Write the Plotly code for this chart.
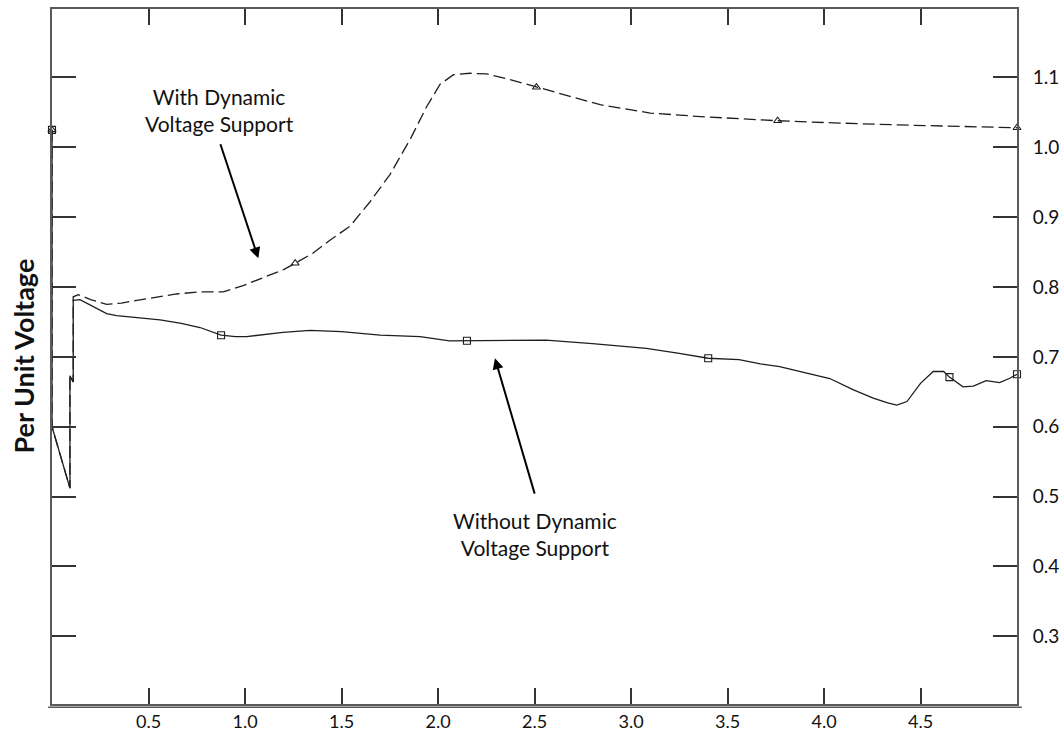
import plotly.graph_objects as go

# ---- data (time in s, voltage in p.u.) ----
t_without = [0, 0, 0.093, 0.093, 0.11, 0.11, 0.145, 0.2, 0.283, 0.335, 0.45, 0.56, 0.67, 0.767,
             0.876, 0.95, 1.009, 1.1, 1.197, 1.337, 1.5, 1.70, 1.907, 2.06, 2.15, 2.39, 2.56,
             2.80, 3.08, 3.25, 3.40, 3.56, 3.67, 3.77, 3.876, 4.03, 4.15, 4.255, 4.33, 4.377,
             4.43, 4.50, 4.566, 4.62, 4.65, 4.72, 4.774, 4.84, 4.91, 4.96, 5.0]
v_without = [1.025, 0.600, 0.512, 0.673, 0.664, 0.781, 0.782, 0.774, 0.762, 0.759, 0.756, 0.753,
             0.748, 0.742, 0.731, 0.729, 0.729, 0.732, 0.735, 0.738, 0.736, 0.731, 0.729, 0.723,
             0.723, 0.723, 0.724, 0.719, 0.712, 0.705, 0.698, 0.696, 0.690, 0.686, 0.679, 0.669,
             0.653, 0.641, 0.634, 0.631, 0.636, 0.662, 0.679, 0.679, 0.671, 0.657, 0.658, 0.666,
             0.663, 0.669, 0.675]

t_with = [0, 0, 0.093, 0.093, 0.11, 0.11, 0.137, 0.2, 0.283, 0.36, 0.44, 0.646, 0.767, 0.888,
          0.99, 1.11, 1.2, 1.26, 1.35, 1.44, 1.544, 1.648, 1.751, 1.855, 1.941, 2.01, 2.08,
          2.166, 2.252, 2.373, 2.51, 2.684, 2.84, 2.995, 3.10, 3.36, 3.76, 4.05, 4.39, 5.0]
v_with = [1.025, 0.600, 0.512, 0.673, 0.664, 0.786, 0.789, 0.782, 0.775, 0.777, 0.781, 0.790,
          0.793, 0.793, 0.802, 0.815, 0.825, 0.834, 0.848, 0.867, 0.887, 0.922, 0.961, 1.011,
          1.058, 1.090, 1.104, 1.106, 1.105, 1.097, 1.086, 1.073, 1.061, 1.054, 1.049, 1.044,
          1.038, 1.035, 1.032, 1.028]

mk_t_without = [0, 0.876, 2.15, 3.40, 4.65, 5.0]
mk_v_without = [1.025, 0.731, 0.723, 0.698, 0.671, 0.675]
mk_t_with = [0, 1.26, 2.51, 3.76, 5.0]
mk_v_with = [1.025, 0.834, 1.086, 1.038, 1.028]

x_ticks = [0.5, 1.0, 1.5, 2.0, 2.5, 3.0, 3.5, 4.0, 4.5]
y_ticks = [0.3, 0.4, 0.5, 0.6, 0.7, 0.8, 0.9, 1.0, 1.1]

label_with = "With Dynamic<br>Voltage Support"
label_without = "Without Dynamic<br>Voltage Support"
y_title = "Per Unit Voltage"

LINE = "#1e1e1e"
FONT = "Lato"

fig = go.Figure()
fig.add_trace(go.Scatter(x=t_with, y=v_with, mode="lines",
                         line=dict(color=LINE, width=1.3, dash="12px,5px"),
                         showlegend=False, hoverinfo="skip"))
fig.add_trace(go.Scatter(x=t_without, y=v_without, mode="lines",
                         line=dict(color=LINE, width=1.3),
                         showlegend=False, hoverinfo="skip"))
fig.add_trace(go.Scatter(x=mk_t_without, y=mk_v_without, mode="markers", cliponaxis=False,
                         marker=dict(symbol="square-open", size=7, color=LINE,
                                     line=dict(width=1.1, color=LINE)),
                         showlegend=False, hoverinfo="skip"))
fig.add_trace(go.Scatter(x=mk_t_with, y=mk_v_with, mode="markers", cliponaxis=False,
                         marker=dict(symbol="triangle-up-open", size=7, color=LINE,
                                     line=dict(width=1.1, color=LINE)),
                         showlegend=False, hoverinfo="skip"))

fig.update_layout(
    width=1062, height=735,
    margin=dict(l=52, r=45, t=9, b=31, autoexpand=False),
    paper_bgcolor="white", plot_bgcolor="white",
    font=dict(family=FONT, size=19, color="#111"),
    xaxis=dict(range=[0, 5.0], tickvals=x_ticks, tickformat=".1f", automargin=False,
               ticks="inside", ticklen=16, tickwidth=1.5, tickcolor="#333",
               showline=True, linecolor="#5a5a5a", linewidth=2, mirror="ticks",
               showgrid=False, zeroline=False, ticklabelstandoff=0,
               tickfont=dict(family=FONT, size=18, color="#111")),
    yaxis=dict(range=[0.203, 1.198], tickvals=y_ticks, tickformat=".1f", side="right",
               automargin=False,
               ticks="inside", ticklen=24, tickwidth=1.5, tickcolor="#333",
               showline=True, linecolor="#5a5a5a", linewidth=2, mirror="ticks",
               showgrid=False, zeroline=False, ticklabelstandoff=10,
               tickfont=dict(family=FONT, size=19, color="#111")),
    shapes=[dict(type="line", xref="paper", yref="paper", x0=-0.004, x1=1.005,
                 y0=-0.0045, y1=-0.0045, line=dict(color="#5a5a5a", width=1.5))],
    annotations=[
        dict(x=1.069, y=0.841, ax=0.870, ay=1.0065, xref="x", yref="y", axref="x", ayref="y",
             text="", showarrow=True, arrowhead=2, arrowsize=1.1, arrowwidth=2,
             arrowcolor="#000"),
        dict(x=2.295, y=0.698, ax=2.503, ay=0.502, xref="x", yref="y", axref="x", ayref="y",
             text="", showarrow=True, arrowhead=2, arrowsize=1.1, arrowwidth=2,
             arrowcolor="#000"),
        dict(x=0.870, y=1.054, xref="x", yref="y", text=label_with, showarrow=False,
             xanchor="center", yanchor="middle",
             font=dict(family=FONT, size=21, color="#111"), align="center"),
        dict(x=2.503, y=0.446, xref="x", yref="y", text=label_without, showarrow=False,
             xanchor="center", yanchor="middle",
             font=dict(family=FONT, size=21, color="#111"), align="center"),
        dict(x=-0.030, y=0.5, xref="paper", yref="paper", text="<b>" + y_title + "</b>",
             textangle=-90, showarrow=False, xanchor="center", yanchor="middle",
             font=dict(family=FONT, size=27, color="#111")),
    ],
)

fig.write_html("out.html", config={"displayModeBar": False},
               post_script="document.body.style.margin='0';")
